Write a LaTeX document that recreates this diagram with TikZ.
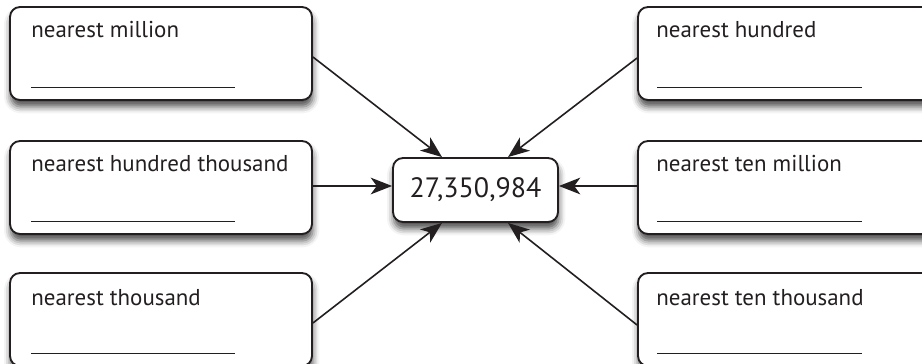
\documentclass[tikz,border=0pt]{standalone}
\usepackage{fontspec}
\setmainfont{PT Sans}
\usetikzlibrary{shadows.blur,arrows.meta,calc}
\definecolor{ink}{HTML}{231F20}
\begin{document}
\begin{tikzpicture}[x=0.75pt,y=-0.75pt,
  box/.style={draw=ink, line width=1.4pt, rounded corners=7.5pt, fill=white,
    minimum width=226.5pt, minimum height=69.75pt, inner sep=0pt,
    blur shadow={shadow xshift=0.5pt, shadow yshift=-5pt, shadow blur radius=5pt, shadow opacity=70}},
  cbox/.style={box, minimum width=123.75pt, minimum height=48pt,
    font=\fontsize{21}{24}\selectfont},
  lbl/.style={anchor=base west, inner sep=0pt, text=ink, font=\fontsize{17.2}{20}\selectfont},
  uline/.style={draw=ink, line width=0.6pt},
  arr/.style={draw=ink, line width=1.2pt, -{Stealth[length=16pt,width=12.5pt,inset=4.5pt]}}]
\clip (0,0) rectangle (922,364);
% boxes
\node[box] (lm) at (161,53.5) {};
\node[box] (lh) at (161,187.5) {};
\node[box] (lt) at (161,319.5) {};
\node[box] (rh) at (789,53.5) {};
\node[box] (rt) at (789,187.5) {};
\node[box] (rs) at (789,319.5) {};
\node[cbox, text=ink] (c) at (475.5,190) {27,350,984};
% labels
\node[lbl] (tlm) at ($(lm.north west)+(22,31)$) {nearest million};
\node[lbl] (tlh) at ($(lh.north west)+(22,31)$) {nearest hundred thousand};
\node[lbl] (tlt) at ($(lt.north west)+(22,33)$) {nearest thousand};
\node[lbl] (trh) at ($(rh.north west)+(19,31)$) {nearest hundred};
\node[lbl] (trt) at ($(rt.north west)+(19,31)$) {nearest ten million};
\node[lbl] (trs) at ($(rs.north west)+(19,33)$) {nearest ten thousand};
% underlines
\foreach \b in {lm,lh,lt}{\draw[uline] ($(\b.north west)+(22,81)$) -- ++(204,0);}
\foreach \b in {rh,rt,rs}{\draw[uline] ($(\b.north west)+(20,81)$) -- ++(205,0);}
% arrows
\draw[arr] ($(lm.east)+(0,3.5)$) -- ($(c.north)+(-33.5,0)$);
\draw[arr] ($(rh.west)+(0,4.5)$) -- ($(c.north)+(32.5,0)$);
\draw[arr] ($(lh.east)+(0,-1.5)$) -- ($(c.west)+(0,-4)$);
\draw[arr] ($(rt.west)+(0,-1.5)$) -- ($(c.east)+(0,-4)$);
\draw[arr] ($(lt.east)+(0,3.5)$) -- ($(c.south)+(-33.5,0)$);
\draw[arr] ($(rs.west)+(0,5.5)$) -- ($(c.south)+(32.5,0)$);
\end{tikzpicture}
\end{document}
